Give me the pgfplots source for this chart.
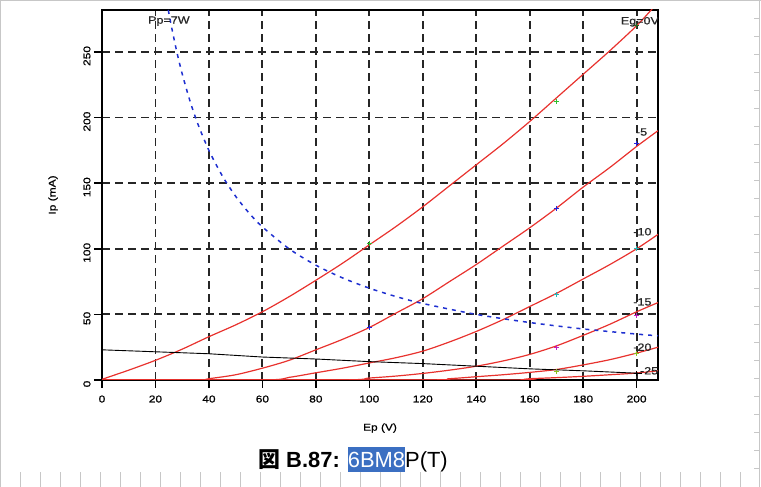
\documentclass[border=0pt]{standalone}
\usepackage{pgfplots}
\pgfplotsset{compat=1.18}
\usepackage{fontspec}
\setmainfont{Liberation Sans}
\newfontfamily\cjk{Noto Sans CJK JP}
\newfontfamily\tickfont{Liberation Sans}[FakeStretch=1.2, FakeBold=0.8]
\definecolor{curve}{HTML}{E8322E}
\definecolor{pp}{HTML}{1E2FD0}
\definecolor{hl}{HTML}{3B6FC2}
\definecolor{mgreen}{HTML}{2FC02F}
\definecolor{mdkgreen}{HTML}{1F6A1F}
\definecolor{mblue}{HTML}{2222E0}
\definecolor{mcyan}{HTML}{22B8B8}
\definecolor{mmag}{HTML}{C020C0}
\definecolor{mlime}{HTML}{88C020}

\begin{document}
\begin{tikzpicture}[x=1bp,y=1bp]
\useasboundingbox (0,0) rectangle (761,487);
% page frame of the screenshot
\draw[black!22, line width=1bp] (0.8,0) -- (0.8,486.2) -- (761,486.2);
\draw[black!22, line width=1bp] (759,0) -- (759,487);
\foreach \k in {1,...,26} \draw[black!22] (754,487-18*\k) -- (759,487-18*\k);
\foreach \k in {1,...,37} \draw[black!22] (20*\k,0) -- (20*\k,15);

\begin{axis}[
  at={(102bp,107bp)}, anchor=south west,
  scale only axis, width=556bp, height=370bp,
  xmin=0, xmax=208, ymin=0, ymax=282,
  xtick={0,20,...,200}, ytick={0,50,...,250},
  grid=major,
  major grid style={black!85, line width=1.8bp, dash pattern=on 8bp off 5bp},
  axis line style={line width=1.6bp},
  tick align=outside, tick pos=left, major tick length=8bp,
  tick style={black, line width=1.6bp},
  /pgf/number format/assume math mode=true,
  ticklabel style={font=\tickfont\fontsize{10}{12}\selectfont},
  xticklabel style={yshift=-4bp},
  yticklabel style={rotate=90, anchor=south, xshift=-4bp},
  xlabel={Ep (V)}, ylabel={Ip (mA)},
  label style={font=\tickfont\fontsize{10}{12}\selectfont},
  x label style={at={(axis description cs:0.5,-0.13)}, anchor=center},
  y label style={at={(axis description cs:-0.088,0.5)}, anchor=center},
]
% Eg = 0 V
\addplot[curve, line width=1.2bp, smooth] coordinates {
(0,0.5)(5,4)(10,7.5)(20,15)(30,23.5)(40,33)(50,42)(60,52)(70,63.5)(80,76)
(90,89)(100,103)(110,117)(120,132)(130,148)(140,164)(150,180)(160,197)
(170,215)(180,233)(190,251)(200,270)(205,281)(208,288)};
% Eg = -5 V
\addplot[curve, line width=1.2bp, smooth] coordinates {
(0,0)(35,0)(40,1)(50,4)(60,9)(70,15)(80,23)(90,31)(100,40)(110,51)(120,62)
(130,75)(140,88)(150,102)(160,116)(170,131)(180,147)(190,162)(200,178)(208,190)};
% Eg = -10 V
\addplot[curve, line width=1.2bp, smooth] coordinates {
(0,0)(60,0)(70,2)(80,5.5)(90,9)(100,13)(110,17)(120,22)(130,29)(140,37)
(150,46)(160,56)(170,66)(180,77)(190,88)(200,100)(208,111)};
% Eg = -15 V
\addplot[curve, line width=1.2bp, smooth] coordinates {
(0,0)(88,0)(100,1.5)(110,3)(120,5)(130,7.5)(140,10.5)(150,14.5)(160,19.5)
(170,26)(180,34)(190,42.5)(200,52)(208,59)};
% Eg = -20 V
\addplot[curve, line width=1.2bp, smooth] coordinates {
(0,0)(118,0)(130,1)(140,2.5)(150,4)(160,5.8)(170,8)(180,11.5)(190,15.5)
(200,20.5)(208,25)};
% Eg = -25 V
\addplot[curve, line width=1.2bp, smooth] coordinates {
(0,0)(148,0)(160,1)(170,1.8)(180,2.8)(190,4)(200,5.3)(208,7)};
% load line
\addplot[black, line width=0.9bp] coordinates {
(0,23)(20,21.5)(40,20)(60,17.5)(80,16)(100,14)(120,12.5)(140,10.5)
(160,8.5)(180,7)(202,5)};
% Pp = 7 W
\addplot[pp, line width=1.5bp, dash pattern=on 4bp off 5bp, smooth] coordinates {
(24.8,282)(26,269.2)(28,250)(30,233.3)(33,212.1)(36,194.4)(40,175)(45,155.6)
(50,140)(55,127.3)(60,116.7)(70,100)(80,87.5)(90,77.8)(100,70)(110,63.6)
(120,58.3)(140,50)(160,43.8)(180,38.9)(200,35)(208,33.7)};
% measured points
\addplot[only marks, mark=+, mark size=2.5bp, mgreen, line width=1bp] coordinates {(100,104)(170,212)};
\addplot[only marks, mark=+, mark size=2.5bp, mdkgreen, line width=1bp] coordinates {(200,270)};
\addplot[only marks, mark=+, mark size=2.5bp, mblue, line width=1bp] coordinates {(100,40)(170,131)(200,180)};
\addplot[only marks, mark=+, mark size=2.5bp, mcyan, line width=1bp] coordinates {(170,65)(200,100)};
\addplot[only marks, mark=+, mark size=2.5bp, mmag, line width=1bp] coordinates {(170,25)(200,49)};
\addplot[only marks, mark=+, mark size=2.5bp, mlime, line width=1bp] coordinates {(170,6.5)(200,20)};
\addplot[only marks, mark=+, mark size=2.5bp, black, line width=1bp] coordinates {(200,5)};
% labels
\begin{scope}[every node/.style={font=\tickfont\fontsize{10.5}{12}\selectfont, inner sep=0.5bp, text=black!85}]
\node[anchor=west] at (axis cs:17,273.5) {Pp=7W};
\node[anchor=east] at (axis cs:208.6,273) {Eg=0V};
\node[anchor=west] at (axis cs:199.5,189) {-5};
\node[anchor=west] at (axis cs:198.5,113) {-10};
\node[anchor=west] at (axis cs:198.5,59.5) {-15};
\node[anchor=west] at (axis cs:198.5,25) {-20};
\node[anchor=west] at (axis cs:201,7) {-25};
\end{scope}
\end{axis}

% caption
\node[anchor=base west, inner sep=0, font=\fontsize{22}{26}\selectfont] at (258,19)
  {{\cjk\bfseries 図} \textbf{B.87:} {\fboxsep=0pt\colorbox{hl}{\rule[-4bp]{0pt}{25bp}\textcolor{white}{6BM8}}}P(T)};
\end{tikzpicture}
\end{document}
